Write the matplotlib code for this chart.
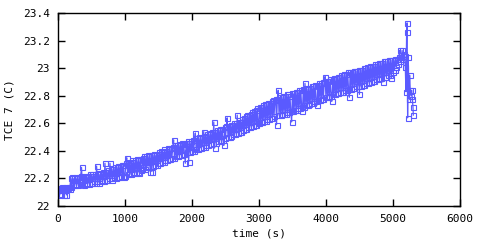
import numpy as np
import matplotlib
matplotlib.use("Agg")
import matplotlib.pyplot as plt
from matplotlib.ticker import FormatStrFormatter

# sampling: one reading every 12.5 s for the main run
t_start = 0
t_step = 12.5

# temperature readings (C), 20 per row (250 s per row)
temp_main = [
    22.13, 22.12, 22.08, 22.13, 22.09, 22.14, 22.12, 22.08, 22.13, 22.14, 22.08, 22.12, 22.13, 22.14, 22.12, 22.20, 22.14, 22.21, 22.15, 22.20,
    22.15, 22.21, 22.16, 22.20, 22.15, 22.21, 22.16, 22.22, 22.28, 22.16, 22.21, 22.15, 22.22, 22.16, 22.21, 22.17, 22.22, 22.16, 22.23, 22.17,
    22.23, 22.17, 22.22, 22.18, 22.23, 22.17, 22.29, 22.18, 22.24, 22.17, 22.23, 22.18, 22.24, 22.19, 22.25, 22.18, 22.31, 22.19, 22.25, 22.19,
    22.26, 22.20, 22.31, 22.20, 22.27, 22.19, 22.27, 22.21, 22.28, 22.20, 22.28, 22.21, 22.29, 22.21, 22.29, 22.22, 22.30, 22.22, 22.30, 22.21,
    22.22, 22.31, 22.35, 22.23, 22.32, 22.24, 22.31, 22.23, 22.33, 22.24, 22.32, 22.25, 22.33, 22.24, 22.34, 22.25, 22.33, 22.24, 22.34, 22.26,
    22.27, 22.35, 22.28, 22.36, 22.27, 22.36, 22.28, 22.37, 22.29, 22.36, 22.25, 22.37, 22.25, 22.37, 22.29, 22.38, 22.30, 22.37, 22.30, 22.38,
    22.31, 22.39, 22.31, 22.40, 22.32, 22.39, 22.32, 22.41, 22.33, 22.40, 22.33, 22.42, 22.34, 22.41, 22.34, 22.42, 22.35, 22.43, 22.48, 22.35,
    22.44, 22.36, 22.44, 22.36, 22.45, 22.37, 22.44, 22.37, 22.46, 22.38, 22.45, 22.38, 22.31, 22.46, 22.39, 22.47, 22.32, 22.46, 22.39, 22.47,
    22.40, 22.48, 22.40, 22.49, 22.53, 22.41, 22.49, 22.41, 22.50, 22.42, 22.49, 22.42, 22.50, 22.43, 22.54, 22.43, 22.51, 22.44, 22.52, 22.44,
    22.52, 22.45, 22.53, 22.45, 22.54, 22.46, 22.61, 22.42, 22.54, 22.46, 22.55, 22.47, 22.55, 22.47, 22.56, 22.48, 22.56, 22.48, 22.44, 22.57,
    22.49, 22.58, 22.64, 22.50, 22.58, 22.50, 22.59, 22.51, 22.59, 22.52, 22.60, 22.52, 22.60, 22.53, 22.66, 22.53, 22.61, 22.54, 22.61, 22.54,
    22.63, 22.55, 22.64, 22.56, 22.65, 22.56, 22.66, 22.57, 22.66, 22.57, 22.67, 22.58, 22.68, 22.58, 22.69, 22.59, 22.70, 22.59, 22.71, 22.60,
    22.60, 22.72, 22.61, 22.72, 22.61, 22.73, 22.62, 22.74, 22.62, 22.74, 22.63, 22.75, 22.63, 22.75, 22.64, 22.76, 22.64, 22.77, 22.65, 22.77,
    22.78, 22.59, 22.78, 22.84, 22.66, 22.79, 22.66, 22.79, 22.67, 22.80, 22.67, 22.80, 22.67, 22.81, 22.68, 22.81, 22.68, 22.80, 22.69, 22.61,
    22.82, 22.69, 22.82, 22.70, 22.83, 22.70, 22.83, 22.71, 22.84, 22.71, 22.84, 22.72, 22.69, 22.85, 22.72, 22.89, 22.73, 22.85, 22.73, 22.86,
    22.74, 22.86, 22.75, 22.87, 22.75, 22.87, 22.76, 22.88, 22.76, 22.73, 22.88, 22.77, 22.89, 22.77, 22.89, 22.78, 22.90, 22.78, 22.90, 22.94,
    22.79, 22.91, 22.79, 22.91, 22.80, 22.92, 22.80, 22.76, 22.92, 22.81, 22.93, 22.81, 22.93, 22.82, 22.94, 22.82, 22.94, 22.83, 22.95, 22.83,
    22.95, 22.83, 22.96, 22.84, 22.96, 22.84, 22.97, 22.85, 22.79, 22.97, 22.85, 22.97, 22.86, 22.98, 22.86, 22.98, 22.87, 22.98, 22.87, 22.99,
    22.81, 22.99, 22.87, 22.99, 22.88, 23.00, 22.88, 23.00, 22.89, 23.01, 22.89, 23.01, 22.90, 23.02, 22.90, 23.02, 22.91, 23.02, 22.91, 23.03,
    22.92, 23.03, 22.92, 23.04, 22.93, 23.04, 22.93, 23.04, 22.90, 23.05, 22.94, 23.05, 22.94, 23.05, 22.95, 23.06, 22.95, 23.06, 22.93, 23.06,
    22.97, 23.06, 22.99, 23.07, 23.01, 23.07, 23.03, 23.08, 23.13, 23.05, 23.08, 23.13, 23.07, 23.10, 23.09,
]

# last few readings where the sensor jumps around
time_tail = [5185, 5195, 5205, 5212, 5220, 5230, 5240, 5250, 5260, 5270, 5280, 5290, 5300, 5305]
temp_tail = [23.01, 22.83, 23.26, 23.33, 22.64, 23.08, 22.78, 22.95, 22.84, 22.80, 22.84, 22.78, 22.72, 22.66]

time_main = t_start + t_step * np.arange(len(temp_main))
time_s = np.concatenate([time_main, time_tail])
temp_c = np.concatenate([temp_main, temp_tail])

x_ticks = [0, 1000, 2000, 3000, 4000, 5000, 6000]
y_ticks = [22, 22.2, 22.4, 22.6, 22.8, 23, 23.2, 23.4]

plt.rcParams['font.family'] = ['DejaVu Sans Mono']
fig = plt.figure(figsize=(4.8, 2.4), dpi=100)
ax = fig.add_axes([0.121, 0.142, 0.837, 0.803])

ax.plot(time_s, temp_c, color='#5a5aff', linewidth=0.9,
        marker='s', markersize=3.6, markerfacecolor='none',
        markeredgecolor='#5a5aff', markeredgewidth=0.8)

ax.set_xlim(0, 6000)
ax.set_ylim(22, 23.4)
ax.set_xticks(x_ticks)
ax.set_yticks(y_ticks)
ax.yaxis.set_major_formatter(FormatStrFormatter('%g'))
ax.tick_params(direction='in', length=5, width=1, top=True, right=True,
               labelsize=8, pad=6)
for s in ax.spines.values():
    s.set_linewidth(1)

ax.set_xlabel('time (s)', fontsize=8, labelpad=3)
ax.set_ylabel('TCE 7 (C)', fontsize=8, labelpad=6)

fig.savefig('out.png', dpi=100)
